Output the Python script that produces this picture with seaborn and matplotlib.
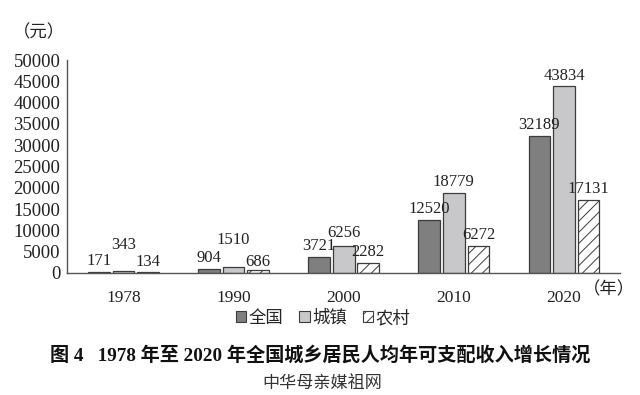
import pandas as pd
import seaborn as sns
import matplotlib.pyplot as plt
from matplotlib.patches import Patch

years = ['1978', '1990', '2000', '2010', '2020']
groups = ['全国', '城镇', '农村']
national = [171, 904, 3721, 12520, 32189]
urban = [343, 1510, 6256, 18779, 43834]
rural = [134, 686, 2282, 6272, 17131]

# label lift (points) so crowded labels at the bottom don't overlap
lift = {
    '全国': [2, 2, 2, 2, 2],
    '城镇': [13, 13, 4, 2, 2],
    '农村': [2, 0, 2, 2, 2],
}

df = pd.DataFrame({
    'year': years * 3,
    'group': [g for g in groups for _ in years],
    'value': national + urban + rural,
})

sns.set_style('white')
plt.rcParams['font.family'] = ['Liberation Serif', 'Noto Sans CJK SC']
plt.rcParams['hatch.color'] = '#555555'
plt.rcParams['hatch.linewidth'] = 0.7

fig = plt.figure(figsize=(6.4, 3.95), dpi=100)
ax = fig.add_axes([0.105, 0.309, 0.864, 0.539])

colors = {'全国': '#7f7f7f', '城镇': '#c8c8ca', '农村': '#ffffff'}
sns.barplot(data=df, x='year', y='value', hue='group', hue_order=groups,
            palette=colors, width=0.67, gap=0.12, edgecolor='#3c3c3c',
            linewidth=0.9, ax=ax, legend=False)

for bar in ax.containers[2]:
    bar.set_hatch('///')

for cont, g in zip(ax.containers, groups):
    vals = df[df.group == g]['value'].tolist()
    for bar, v, off in zip(cont, vals, lift[g]):
        ax.annotate(f'{v}', (bar.get_x() + bar.get_width() / 2, bar.get_height()),
                    xytext=(0, off), textcoords='offset points',
                    ha='center', va='bottom', fontsize=12, color='#222222')

ax.set_xlim(-0.51, 4.51)
ax.set_ylim(0, 50000)
ax.set_yticks(range(0, 50001, 5000))
ax.set_xlabel('')
ax.set_ylabel('')
ax.tick_params(axis='both', length=0, colors='#222222')
ax.tick_params(axis='y', labelsize=13.5, pad=5)
ax.tick_params(axis='x', labelsize=12.5, pad=12)
for s in ['top', 'right']:
    ax.spines[s].set_visible(False)
for s in ['left', 'bottom']:
    ax.spines[s].set_color('#555555')
    ax.spines[s].set_linewidth(1.0)

fig.text(0.02, 0.905, '（元）', fontsize=12.5, color='#222222',
         family=['Noto Sans CJK SC'])
fig.text(0.91, 0.268, '（年）', fontsize=12.5, color='#222222',
         family=['Noto Sans CJK SC'], va='center')

handles = [Patch(facecolor=colors[g], edgecolor='#3c3c3c', linewidth=0.8,
                 hatch='///' if g == '农村' else None, label=g) for g in groups]
fig.legend(handles=handles, loc='center', bbox_to_anchor=(0.505, 0.195), ncol=3,
           frameon=False, handlelength=0.6, handleheight=0.6, handletextpad=0.15,
           columnspacing=0.9, prop={'family': ['Noto Sans CJK SC'], 'size': 12.5})

fig.text(0.5, 0.1, '图 4   1978 年至 2020 年全国城乡居民人均年可支配收入增长情况',
         ha='center', va='center', fontsize=13.8, fontweight='bold', color='#111111')
fig.text(0.503, 0.03, '中华母亲媒祖网', ha='center', va='center', fontsize=12.3,
         color='#333333', family=['Noto Sans CJK SC'])

fig.savefig('out.png', dpi=100)
